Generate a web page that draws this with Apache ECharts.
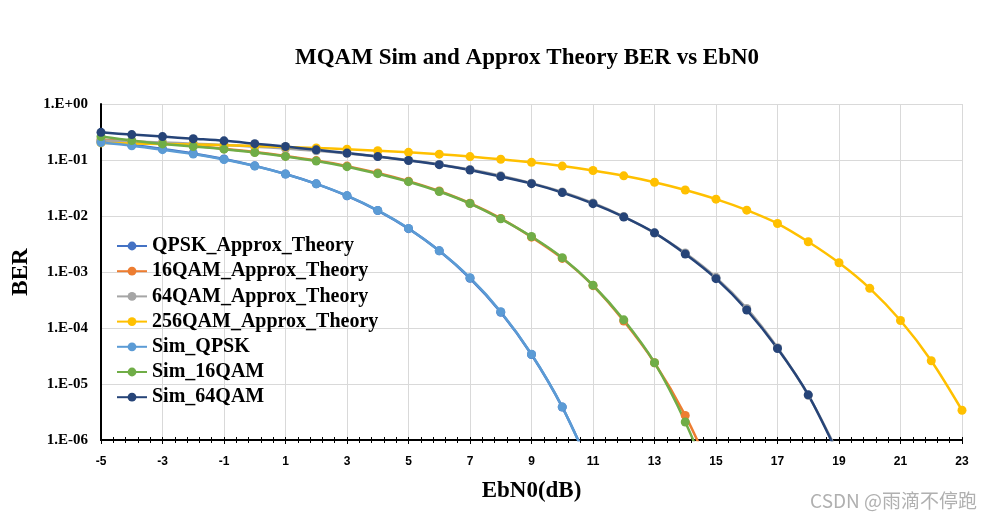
<!DOCTYPE html>
<html>
<head>
<meta charset="utf-8">
<title>MQAM Sim and Approx Theory BER vs EbN0</title>
<script src="https://cdn.jsdelivr.net/npm/echarts@6/dist/echarts.min.js"></script>
<style>
    html, body { margin: 0; padding: 0; background: #fff; }
    #chart { width: 993px; height: 522px; }
</style>
</head>
<body>
<div id="chart"></div>
<script>
// EbN0 sample points (dB)
var ebn0 = [-5, -4, -3, -2, -1, 0, 1, 2, 3, 4, 5, 6, 7, 8, 9, 10, 11, 12, 13, 14, 15, 16, 17, 18, 19, 20, 21, 22, 23];

// BER (the last point of a curve sits below 1E-06, so the line runs to the bottom edge)
var qpskTheory   = [0.213, 0.186, 0.158, 0.131, 0.104, 0.0786, 0.0563, 0.0375, 0.0229, 0.0125, 0.00595, 0.00239, 0.000773, 0.000191, 3.36e-5, 3.87e-6, 2.6e-7];
var qam16Theory  = [0.231, 0.215, 0.198, 0.179, 0.159, 0.139, 0.118, 0.0977, 0.0778, 0.0587, 0.0419, 0.0279, 0.0169, 0.00905, 0.00419, 0.00175, 0.00057, 0.000133, 2.4e-5, 2.75e-6, 1.8e-7];
var qam64Theory  = [0.223, 0.215, 0.206, 0.196, 0.185, 0.173, 0.160, 0.146, 0.131, 0.116, 0.0996, 0.0834, 0.0675, 0.0524, 0.0386, 0.0269, 0.0171, 0.00977, 0.00497, 0.00219, 0.000802, 0.000224, 4.44e-5, 6.3e-6, 5.5e-7];
var qam256Theory = [0.202, 0.198, 0.194, 0.189, 0.184, 0.178, 0.171, 0.164, 0.156, 0.147, 0.137, 0.127, 0.115, 0.103, 0.0908, 0.0778, 0.0648, 0.0522, 0.0401, 0.0291, 0.0200, 0.0127, 0.00734, 0.00347, 0.00146, 0.000511, 0.000136, 2.6e-5, 3.4e-6];
var simQpsk  = [0.205, 0.180, 0.153, 0.128, 0.102, 0.078, 0.056, 0.0375, 0.0231, 0.0126, 0.0060, 0.0024, 0.00079, 0.000195, 3.4e-5, 3.9e-6, 2.5e-7];
var simQam16 = [0.262, 0.222, 0.194, 0.174, 0.156, 0.136, 0.116, 0.096, 0.076, 0.057, 0.041, 0.0274, 0.0167, 0.0089, 0.0043, 0.0018, 0.00058, 0.000140, 2.4e-5, 2.1e-6, 1.0e-7];
var simQam64 = [0.312, 0.284, 0.262, 0.240, 0.220, 0.196, 0.174, 0.152, 0.133, 0.115, 0.098, 0.0826, 0.0664, 0.0505, 0.0378, 0.0262, 0.0166, 0.0096, 0.0050, 0.0021, 0.00076, 0.00021, 4.3e-5, 6.4e-6, 5e-7];

var seriesNames = ['QPSK_Approx_Theory', '16QAM_Approx_Theory', '64QAM_Approx_Theory', '256QAM_Approx_Theory', 'Sim_QPSK', 'Sim_16QAM', 'Sim_64QAM'];
var seriesValues = [qpskTheory, qam16Theory, qam64Theory, qam256Theory, simQpsk, simQam16, simQam64];
var colors = ['#4472C4', '#ED7D31', '#A5A5A5', '#FFC000', '#5B9BD5', '#70AD47', '#264478'];

// tick labels
var xTickLabels = ['-5', '-3', '-1', '1', '3', '5', '7', '9', '11', '13', '15', '17', '19', '21', '23'];
var yTickLabels = ['1.E+00', '1.E-01', '1.E-02', '1.E-03', '1.E-04', '1.E-05', '1.E-06'];

var serif = '"Liberation Serif", "Times New Roman", serif';

var series = seriesValues.map(function (vals, k) {
    return {
        name: seriesNames[k],
        type: 'line',
        xAxisIndex: 0,
        smooth: 0.3,
        symbol: 'circle',
        symbolSize: 9,
        color: colors[k],
        lineStyle: { width: 2.5, color: colors[k] },
        itemStyle: { color: colors[k] },
        data: vals.map(function (v, i) { return [ebn0[i], v]; })
    };
});

var chart = echarts.init(document.getElementById('chart'));
chart.setOption({
    animation: false,
    backgroundColor: '#fff',
    title: {
        text: 'MQAM Sim and Approx Theory BER vs EbN0',
        left: 290,
        top: 42,
        textStyle: { fontFamily: serif, fontWeight: 'bold', fontSize: 23, color: '#000' }
    },
    grid: { left: 101, right: 31, top: 104, bottom: 82 },
    legend: {
        orient: 'vertical',
        left: 111,
        top: 231,
        itemWidth: 30,
        itemHeight: 11,
        itemGap: 5.2,
        textStyle: { fontFamily: serif, fontWeight: 'bold', fontSize: 20, color: '#000', lineHeight: 20 },
        data: seriesNames
    },
    xAxis: [
        // data axis
        { type: 'value', min: -5, max: 23, show: false, axisLine: { onZero: false } },
        // labelled axis, counted from 0 so ticks land on -5, -3, ...
        {
            type: 'value', min: 0, max: 28, interval: 2, position: 'bottom',
            name: 'EbN0(dB)', nameLocation: 'middle', nameGap: 40,
            nameTextStyle: { fontFamily: serif, fontWeight: 'bold', fontSize: 23, color: '#000' },
            axisLine: { onZero: false, lineStyle: { color: '#000', width: 2 } },
            axisTick: { show: true, length: 4, lineStyle: { color: '#000', width: 1 } },
            minorTick: { show: true, splitNumber: 5, length: 3, lineStyle: { color: '#000', width: 1 } },
            axisLabel: {
                margin: 16, fontFamily: '"Liberation Sans", Arial, sans-serif', fontWeight: 'bold', fontSize: 12, color: '#000',
                formatter: function (v) { return xTickLabels[Math.round(v / 2)]; }
            },
            splitLine: { show: true, lineStyle: { color: '#D9D9D9', width: 1 } }
        },
        // inside half of the crossing ticks
        {
            type: 'value', min: 0, max: 28, interval: 2, position: 'bottom',
            axisLine: { onZero: false, lineStyle: { color: '#000', width: 2 } },
            axisTick: { show: true, inside: true, length: 3, lineStyle: { color: '#000', width: 1 } },
            minorTick: { show: true, splitNumber: 5, length: 3, lineStyle: { color: '#000', width: 1 } },
            axisLabel: { show: false },
            splitLine: { show: false }
        }
    ],
    yAxis: {
        type: 'log',
        logBase: 10,
        min: 1e-6,
        max: 1,
        name: 'BER', nameLocation: 'middle', nameGap: 67,
        nameTextStyle: { fontFamily: serif, fontWeight: 'bold', fontSize: 23, color: '#000' },
        axisLine: { show: true, onZero: false, lineStyle: { color: '#000', width: 2 } },
        axisTick: { show: false },
        axisLabel: {
            margin: 13, fontFamily: serif, fontWeight: 'bold', fontSize: 15, color: '#000',
            formatter: function (v) { return yTickLabels[Math.round(-Math.log10(v))]; }
        },
        splitLine: { show: true, lineStyle: { color: '#D9D9D9', width: 1 } }
    },
    graphic: [{
        type: 'text',
        right: 16,
        top: 491,
        style: { text: 'CSDN @雨滴不停跑', font: '19px "Noto Sans CJK SC", sans-serif', fill: '#b0b0b0' }
    }],
    series: series
});
</script>
</body>
</html>
